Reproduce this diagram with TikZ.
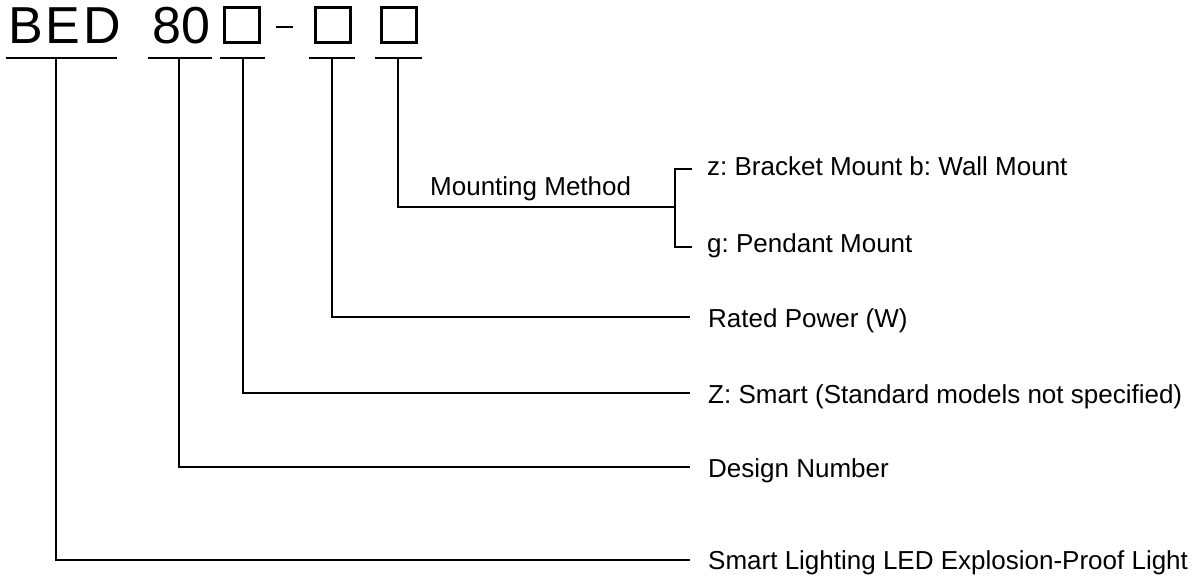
\documentclass[tikz,border=0pt]{standalone}
\usepackage{fontspec}
\setmainfont{Liberation Sans}
\frenchspacing
\begin{document}
\begin{tikzpicture}[x=1pt,y=-1pt,
  big/.style={anchor=base west,inner sep=0pt,font=\fontsize{52}{56}\selectfont},
  lbl/.style={anchor=base west,inner sep=0pt,font=\fontsize{26}{30}\selectfont\frenchspacing},
  box/.style={draw,line width=3pt,minimum width=35pt,minimum height=35pt,inner sep=0pt},
  ln/.style={line width=1.8pt}]
\useasboundingbox (0,0) rectangle (1200,581);
% code letters
\node[big] (B) at (8,43) {B};
\node[big] (E) at (45,43) {E};
\node[big] (D) at (83,43) {D};
\node[big] (n80) at (152,43) {80};
\node[box] (b1) at (242,25) {};
\node[box] (b2) at (332.5,25) {};
\node[box] (b3) at (399,25) {};
\coordinate (dA) at (276,27);
\coordinate (dB) at (293,27);
\draw[line width=2.7pt] (dA) -- (dB);
% underlines
\coordinate (u1a) at (6,58);   \coordinate (u1b) at (117,58);
\coordinate (u2a) at (148,58); \coordinate (u2b) at (212,58);
\coordinate (u3a) at (220,58); \coordinate (u3b) at (265,58);
\coordinate (u4a) at (309,58); \coordinate (u4b) at (355,58);
\coordinate (u5a) at (375,58); \coordinate (u5b) at (422,58);
\foreach \i in {1,...,5} {\draw[ln] (u\i a) -- (u\i b);}
% tick points
\coordinate (t1) at (56,58);
\coordinate (t2) at (179,58);
\coordinate (t3) at (243,58);
\coordinate (t4) at (332,58);
\coordinate (t5) at (398,58);
% line ends
\coordinate (e1) at (690,560);
\coordinate (e2) at (690,467);
\coordinate (e3) at (690,393);
\coordinate (e4) at (690,317);
\coordinate (br) at (675,207);
\coordinate (brT) at (675,169);
\coordinate (brB) at (675,247);
\coordinate (brT2) at (692,169);
\coordinate (brB2) at (692,247);
% labels
\node[lbl] (lmm) at (430,195) {Mounting Method};
\node[lbl] (lz) at (707,175) {z: Bracket Mount b: Wall Mount};
\node[lbl] (lg) at (707,252) {g: Pendant Mount};
\node[lbl] (l4) at (708,327) {Rated Power (W)};
\node[lbl] (l3) at (708,403) {Z: Smart (Standard models not specified)};
\node[lbl] (l2) at (708,477) {Design Number};
\node[lbl] (l1) at (708,569) {Smart Lighting LED Explosion-Proof Light};
% connectors
\draw[ln] (t1) |- (e1);
\draw[ln] (t2) |- (e2);
\draw[ln] (t3) |- (e3);
\draw[ln] (t4) |- (e4);
\draw[ln] (t5) |- (br);
\draw[ln] (brT2) -- (brT) -- (brB) -- (brB2);
\end{tikzpicture}
\end{document}
